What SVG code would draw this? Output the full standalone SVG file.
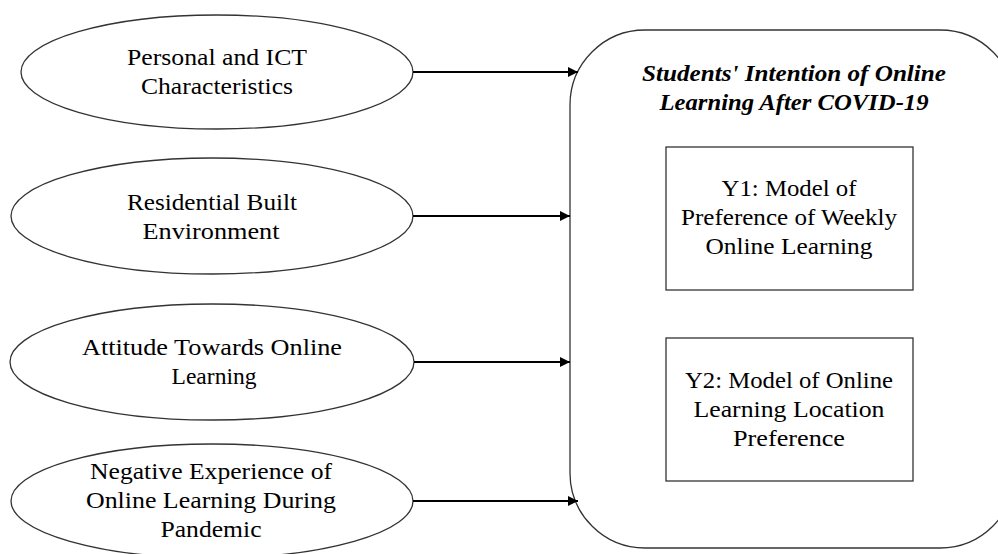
<svg xmlns="http://www.w3.org/2000/svg" width="998" height="554" viewBox="0 0 998 554">
<style>
.sh{fill:#fff;stroke:#333;stroke-width:1.3}
.bx{fill:#fff;stroke:#333;stroke-width:1.3}
.t{font-family:"Liberation Serif",serif;font-size:23px;fill:#000;text-anchor:middle}
.ti{font-family:"Liberation Serif",serif;font-size:23px;font-weight:bold;font-style:italic;fill:#000;text-anchor:middle}
.c{stroke:#000;stroke-width:2;fill:none;marker-end:url(#ah)}
</style>
<defs>
<marker id="ah" viewBox="0 0 10 10" refX="10" refY="5" markerWidth="5" markerHeight="5" orient="auto" markerUnits="strokeWidth">
<path d="M0,0 L10,5 L0,10 z" fill="#000"/>
</marker>
</defs>
<rect width="998" height="554" fill="#fff"/>
<g id="outcome">
<rect class="bx" x="570" y="30" width="445" height="518" rx="75" ry="75"/>
<text class="ti" x="794" y="81" textLength="304" lengthAdjust="spacingAndGlyphs">Students' Intention of Online</text>
<text class="ti" x="794" y="110" textLength="269" lengthAdjust="spacingAndGlyphs">Learning After COVID-19</text>
</g>
<g id="y1">
<rect class="bx" x="666" y="147" width="247" height="143"/>
<text class="t" x="789" y="196" textLength="135" lengthAdjust="spacingAndGlyphs">Y1: Model of</text>
<text class="t" x="789" y="225" textLength="216" lengthAdjust="spacingAndGlyphs">Preference of Weekly</text>
<text class="t" x="789" y="254" textLength="167" lengthAdjust="spacingAndGlyphs">Online Learning</text>
</g>
<g id="y2">
<rect class="bx" x="666" y="338" width="247" height="143"/>
<text class="t" x="789" y="388" textLength="208" lengthAdjust="spacingAndGlyphs">Y2: Model of Online</text>
<text class="t" x="789" y="417" textLength="191" lengthAdjust="spacingAndGlyphs">Learning Location</text>
<text class="t" x="789" y="446" textLength="112" lengthAdjust="spacingAndGlyphs">Preference</text>
</g>
<g id="personal">
<ellipse class="sh" cx="217" cy="72" rx="196" ry="57"/>
<text class="t" x="217" y="65" textLength="180" lengthAdjust="spacingAndGlyphs">Personal and ICT</text>
<text class="t" x="217" y="94" textLength="152" lengthAdjust="spacingAndGlyphs">Characteristics</text>
</g>
<g id="residential">
<ellipse class="sh" cx="212" cy="216" rx="201" ry="58"/>
<text class="t" x="212" y="210" textLength="170" lengthAdjust="spacingAndGlyphs">Residential Built</text>
<text class="t" x="211" y="239" textLength="137" lengthAdjust="spacingAndGlyphs">Environment</text>
</g>
<g id="attitude">
<ellipse class="sh" cx="212" cy="362" rx="202" ry="58"/>
<text class="t" x="212" y="355" textLength="260" lengthAdjust="spacingAndGlyphs">Attitude Towards Online</text>
<text class="t" x="214" y="384" textLength="85" lengthAdjust="spacingAndGlyphs">Learning</text>
</g>
<g id="negative">
<ellipse class="sh" cx="212" cy="501" rx="201" ry="57"/>
<text class="t" x="211" y="479" textLength="242" lengthAdjust="spacingAndGlyphs">Negative Experience of</text>
<text class="t" x="211" y="508" textLength="250" lengthAdjust="spacingAndGlyphs">Online Learning During</text>
<text class="t" x="211" y="537" textLength="101" lengthAdjust="spacingAndGlyphs">Pandemic</text>
</g>
<g id="connectors">
<line class="c" x1="413" y1="72" x2="578" y2="72"/>
<line class="c" x1="413" y1="216" x2="570" y2="216"/>
<line class="c" x1="414" y1="362" x2="570" y2="362"/>
<line class="c" x1="413" y1="501" x2="578" y2="501"/>
</g>
</svg>
